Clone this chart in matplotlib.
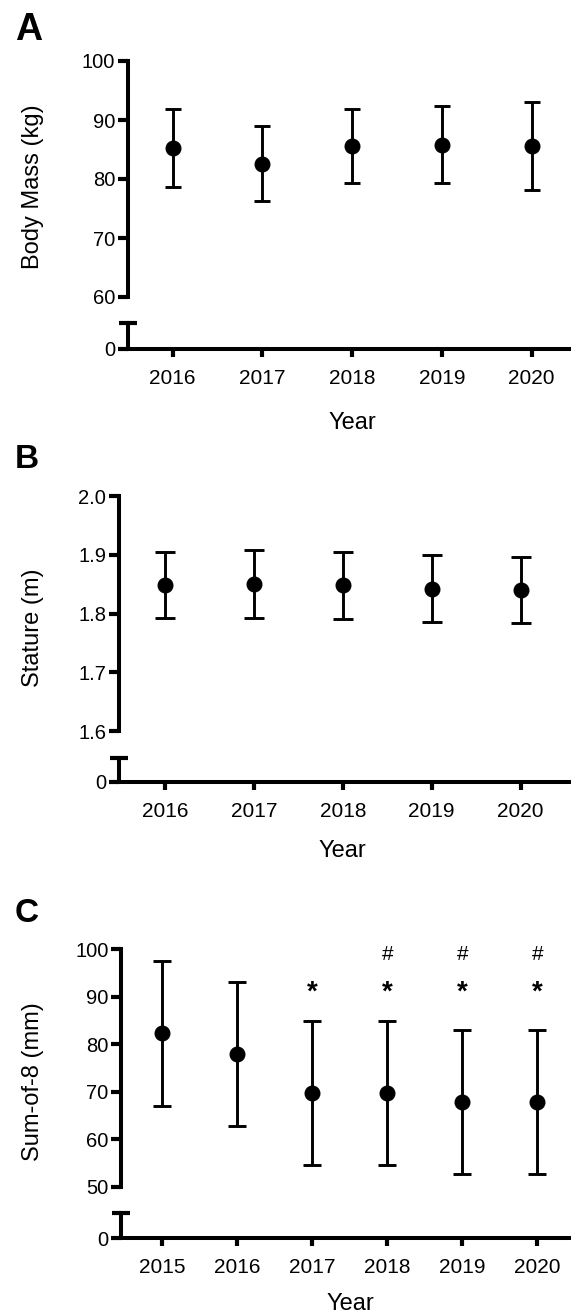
import matplotlib
matplotlib.use('Agg')
import matplotlib.pyplot as plt
import numpy as np

plt.rcParams['font.family'] = ['Liberation Sans', 'DejaVu Sans']

# ---------------- data ----------------
years_mass = ['2016', '2017', '2018', '2019', '2020']
mass_mean = [85.2, 82.6, 85.6, 85.8, 85.6]
mass_sd = [6.6, 6.3, 6.3, 6.5, 7.4]

years_stature = ['2016', '2017', '2018', '2019', '2020']
stature_mean = [1.848, 1.850, 1.848, 1.842, 1.840]
stature_sd = [0.056, 0.058, 0.057, 0.057, 0.057]

years_sum8 = ['2015', '2016', '2017', '2018', '2019', '2020']
sum8_mean = [82.3, 78.0, 69.8, 69.8, 67.9, 67.9]
sum8_sd = [15.2, 15.2, 15.2, 15.2, 15.2, 15.2]
sum8_star = ['', '', '*', '*', '*', '*']
sum8_hash = ['', '', '', '#', '#', '#']

mass_ticks = [60, 70, 80, 90, 100]
stature_ticks = [1.6, 1.7, 1.8, 1.9, 2.0]
sum8_ticks = [50, 60, 70, 80, 90, 100]

# ---------------- layout ----------------
W, H, DPI = 571, 1315, 100
fig = plt.figure(figsize=(W / DPI, H / DPI), dpi=DPI)


def fx(px):
    return px / W


def fy(py):
    return 1 - py / H


SPINE_LW = 2.9
TICK_W = 3.0


def panel(letter, letter_base, letter_size, spine_x, top_px, low_px, cap_px, zero_px,
          xlim, yticks, yfmt, ylabel, ylabel_cy, xlabel_base, years, mean, sd, capsize):
    ax = fig.add_axes([fx(spine_x), fy(low_px), 1 - fx(spine_x), (low_px - top_px) / H])
    axb = fig.add_axes([fx(spine_x), fy(zero_px), 1 - fx(spine_x), (zero_px - cap_px) / H])
    x = np.arange(len(years))
    ax.errorbar(x, mean, yerr=sd, fmt='o', color='black', ms=10.5, elinewidth=2.1,
                capsize=capsize, capthick=2.1)
    for a in (ax, axb):
        a.set_xlim(*xlim)
        a.patch.set_visible(False)
        for s in ('top', 'right'):
            a.spines[s].set_visible(False)
        a.spines['left'].set_linewidth(SPINE_LW)
    ax.set_ylim(yticks[0], yticks[-1])
    axb.set_ylim(0, 1)
    ax.spines['bottom'].set_visible(False)
    axb.spines['bottom'].set_linewidth(SPINE_LW)
    ax.set_xticks([])
    ax.set_yticks(yticks)
    ax.set_yticklabels([yfmt.format(v) for v in yticks])
    ax.set_yticks([yticks[0]], minor=True)
    ax.tick_params(axis='y', which='major', direction='out', length=7, width=TICK_W,
                   pad=2, labelsize=14.5)
    ax.tick_params(axis='y', which='minor', direction='inout', length=13.5, width=TICK_W)
    axb.set_yticks([0])
    axb.set_yticklabels(['0'])
    axb.set_yticks([1], minor=True)
    axb.tick_params(axis='y', which='major', direction='out', length=7, width=TICK_W,
                    pad=2, labelsize=14.5)
    axb.tick_params(axis='y', which='minor', direction='inout', length=13.5, width=TICK_W)
    axb.set_xticks(x)
    axb.set_xticklabels(years)
    axb.tick_params(axis='x', direction='out', length=5.5, width=TICK_W, pad=9, labelsize=15)

    fig.text(fx(15), fy(letter_base), letter, fontsize=letter_size, fontweight='bold',
             ha='left', va='baseline')
    fig.text(fx(33.5), fy(ylabel_cy), ylabel, fontsize=17, rotation=90,
             ha='center', va='center')
    mid = (x[0] + x[-1]) / 2
    xm = fig.transFigure.inverted().transform(axb.transData.transform((mid, 0)))[0]
    fig.text(xm, fy(xlabel_base), 'Year', fontsize=17, ha='center', va='baseline')
    return ax, x


panel('A', 40, 27, 127.5, 61, 297, 323, 349, (-0.504, 4.44), mass_ticks, '{:.0f}',
      'Body Mass (kg)', 187, 429, years_mass, mass_mean, mass_sd, 5.7)

panel('B', 468.3, 24, 118.5, 496, 731, 757.7, 781.7, (-0.523, 4.567), stature_ticks, '{:.1f}',
      'Stature (m)', 628, 856.7, years_stature, stature_mean, stature_sd, 7.0)

axc, xc = panel('C', 922.5, 24, 121, 949.3, 1186.7, 1213.3, 1238.3, (-0.553, 5.447), sum8_ticks,
                '{:.0f}', 'Sum-of-8 (mm)', 1082, 1310, years_sum8, sum8_mean, sum8_sd, 6.5)

STAR_Y = 89.3
HASH_Y = 97.75
for xi, s, h in zip(xc, sum8_star, sum8_hash):
    if s:
        axc.text(xi, STAR_Y, s, fontsize=20, fontweight='bold', ha='center', va='baseline',
                 clip_on=False)
    if h:
        axc.text(xi, HASH_Y, h, fontsize=15, ha='center', va='baseline', clip_on=False)

fig.savefig('out.png', dpi=DPI)
